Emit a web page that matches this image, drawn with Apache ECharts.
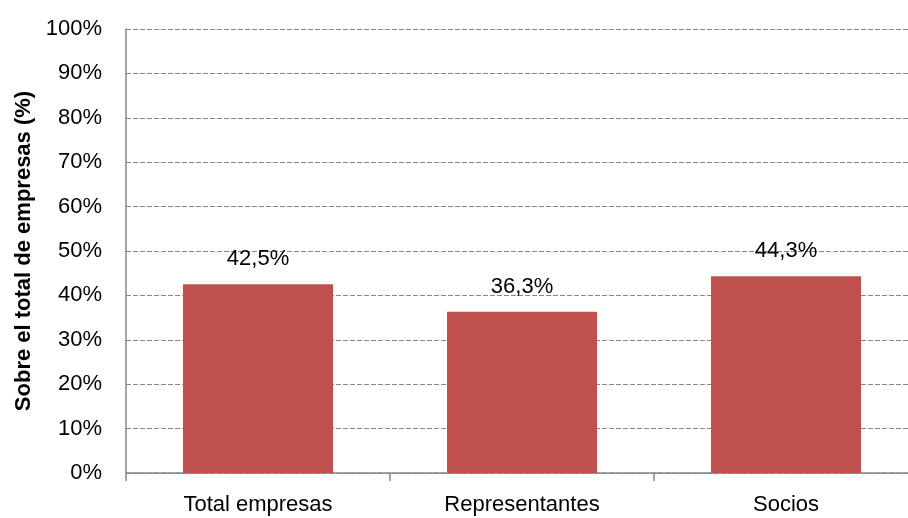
<!DOCTYPE html>
<html>
<head>
<meta charset="utf-8">
<script src="https://cdn.jsdelivr.net/npm/echarts@6/dist/echarts.min.js"></script>
<style>
html,body{margin:0;padding:0;background:#fff;}
#chart{width:908px;height:518px;}
</style>
</head>
<body>
<div id="chart"></div>
<script>
const categories = ['Total empresas', 'Representantes', 'Socios'];
const values = [42.5, 36.3, 44.3];
const yTicks = { min: 0, max: 100, interval: 10 };
const yAxisTitle = 'Sobre el total de empresas (%)';

const FONT = "'Liberation Sans', Arial, sans-serif";
const chart = echarts.init(document.getElementById('chart'), null, { renderer: 'canvas' });
chart.setOption({
  animation: false,
  backgroundColor: '#ffffff',
  grid: { left: 126, top: 29, width: 792, height: 444, containLabel: false, outerBoundsMode: 'none' },
  xAxis: {
    type: 'category',
    data: categories,
    axisLine: { show: true, lineStyle: { color: '#868686', width: 1.5 } },
    axisTick: { show: true, alignWithLabel: false, inside: false, length: 8, lineStyle: { color: '#868686', width: 1.5 } },
    axisLabel: { color: '#000', fontFamily: FONT, fontSize: 22, margin: 21 },
    splitLine: { show: false }
  },
  yAxis: {
    type: 'value',
    min: yTicks.min, max: yTicks.max, interval: yTicks.interval,
    name: yAxisTitle,
    nameLocation: 'middle',
    nameRotate: 90,
    nameGap: 88,
    nameTextStyle: { color: '#000', fontFamily: FONT, fontWeight: 'bold', fontSize: 22 },
    axisLine: { show: true, lineStyle: { color: '#868686', width: 1.5 } },
    axisTick: { show: false },
    axisLabel: { color: '#000', fontFamily: FONT, fontSize: 22, margin: 24, formatter: '{value}%' },
    splitLine: { show: true, lineStyle: { color: '#878787', width: 1, type: [5, 2] } }
  },
  series: [{
    type: 'bar',
    data: values,
    barWidth: 150,
    itemStyle: { color: '#C0504D' },
    label: {
      show: true,
      position: 'top',
      distance: 14,
      color: '#000',
      fontFamily: FONT,
      fontSize: 22,
      formatter: p => p.value.toFixed(1).replace('.', ',') + '%'
    }
  }]
});
</script>
</body>
</html>
